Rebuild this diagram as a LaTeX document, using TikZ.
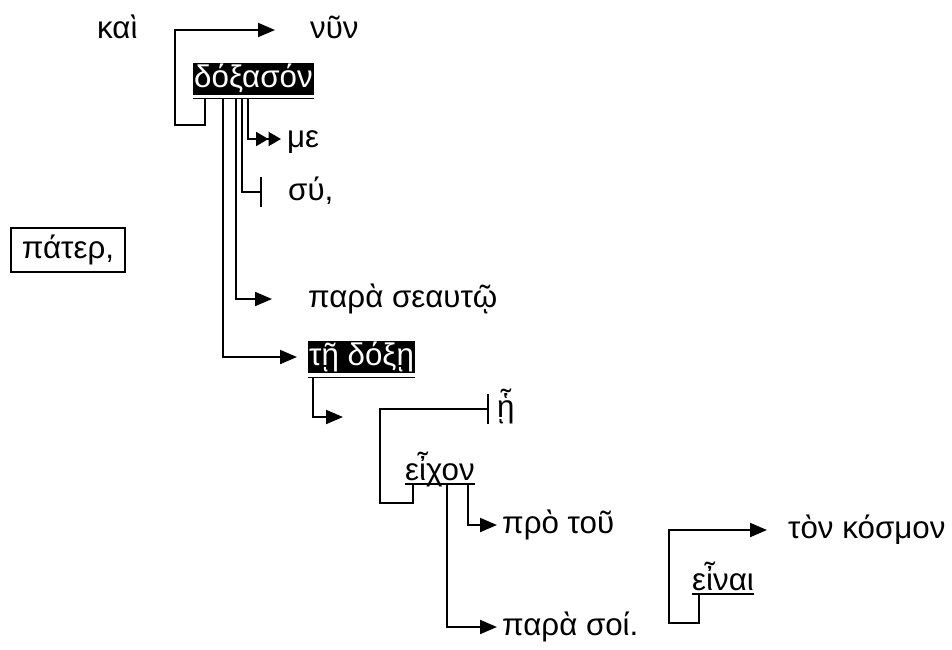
\documentclass[tikz,border=0pt]{standalone}
\usepackage{fontspec}
\setmainfont{Liberation Sans}
\usetikzlibrary{positioning,arrows.meta}

\begin{document}
\begin{tikzpicture}[x=1pt, y=-1pt,
  word/.style={font=\fontsize{31.3}{36}\selectfont, inner sep=0pt, text height=24pt, text depth=8pt, anchor=west},
  hl/.style={word, fill=black, text=white, inner xsep=1pt},
  rel/.style={-{Triangle[length=17pt,width=14pt]}, line width=2pt},
  rel2/.style={-{Triangle[length=12.5pt,width=14pt]Triangle[length=12.5pt,width=14pt]}, line width=2pt},
  stop/.style={-{Bar[width=30pt]}, line width=2pt},
  ulthin/.style={line width=1pt},
  ulthick/.style={line width=2.7pt}]
\useasboundingbox (0,0) rectangle (952,649);

% words
\node[word] (kai) at (97,30) {καὶ};
\node[word] (nyn) at (310,30) {νῦν};
\node[hl] (doxa) at (193,79) {δόξασόν};
\node[word] (me) at (287,139) {με};
\node[word] (sy) at (288,192) {σύ,};
\node[word, draw, line width=1.3pt, anchor=center, inner xsep=11pt, inner ysep=6pt] (pater) at (68,250) {πάτερ,};
\node[word] (para1) at (308,299) {παρὰ σεαυτῷ};
\node[hl] (tedoxe) at (308,357) {τῇ δόξῃ};
\node[word] (he) at (497,409) {ᾗ};
\node[word] (eichon) at (405,472) {εἶχον};
\node[word] (pro) at (502,525) {πρὸ τοῦ};
\node[word] (para2) at (502,627) {παρὰ σοί.};
\node[word] (einai) at (692,582) {εἶναι};
\node[word] (kosmon) at (788,530) {τὸν κόσμον};
\coordinate (relcl) at (343,417);

% underlines
\draw[ulthin] ([yshift=-3pt]doxa.south west) -- ([yshift=-3pt]doxa.south east);
\draw[ulthin] ([yshift=-4pt]tedoxe.south west) -- ([yshift=-4pt]tedoxe.south east);
\draw[ulthick] ([yshift=-4pt]eichon.base west) -- ([yshift=-4pt]eichon.base east);
\draw[ulthick] ([yshift=-4pt]einai.base west) -- ([yshift=-4pt]einai.base east);

% connectors
\draw[rel] ([xshift=12pt,yshift=-3pt]doxa.south west) -- ++(0,27) -- ++(-30,0) |- ([xshift=-35pt]nyn.west);
\draw[rel2] ([xshift=55pt,yshift=-3pt]doxa.south west) |- ([xshift=-6pt]me.west);
\draw[stop] ([xshift=49pt,yshift=-3pt]doxa.south west) |- ([xshift=-26pt]sy.west);
\draw[rel] ([xshift=43pt,yshift=-3pt]doxa.south west) |- ([xshift=-36pt]para1.west);
\draw[rel] ([xshift=30pt,yshift=-3pt]doxa.south west) |- ([xshift=-11pt]tedoxe.west);
\draw[rel] ([xshift=5pt,yshift=-4pt]tedoxe.south west) |- (relcl);
\draw[stop] ([xshift=8pt,yshift=-4pt]eichon.base west) -- ++(0,19) -- ++(-33,0) |- ([xshift=-8pt]he.west);
\draw[rel] ([xshift=63pt,yshift=-4pt]eichon.base west) |- ([xshift=-5pt]pro.west);
\draw[rel] ([xshift=42pt,yshift=-4pt]eichon.base west) |- ([xshift=-5pt]para2.west);
\draw[rel] ([xshift=7pt,yshift=-4pt]einai.base west) -- ++(0,29) -- ++(-30,0) |- ([xshift=-21pt]kosmon.west);
\end{tikzpicture}
\end{document}
